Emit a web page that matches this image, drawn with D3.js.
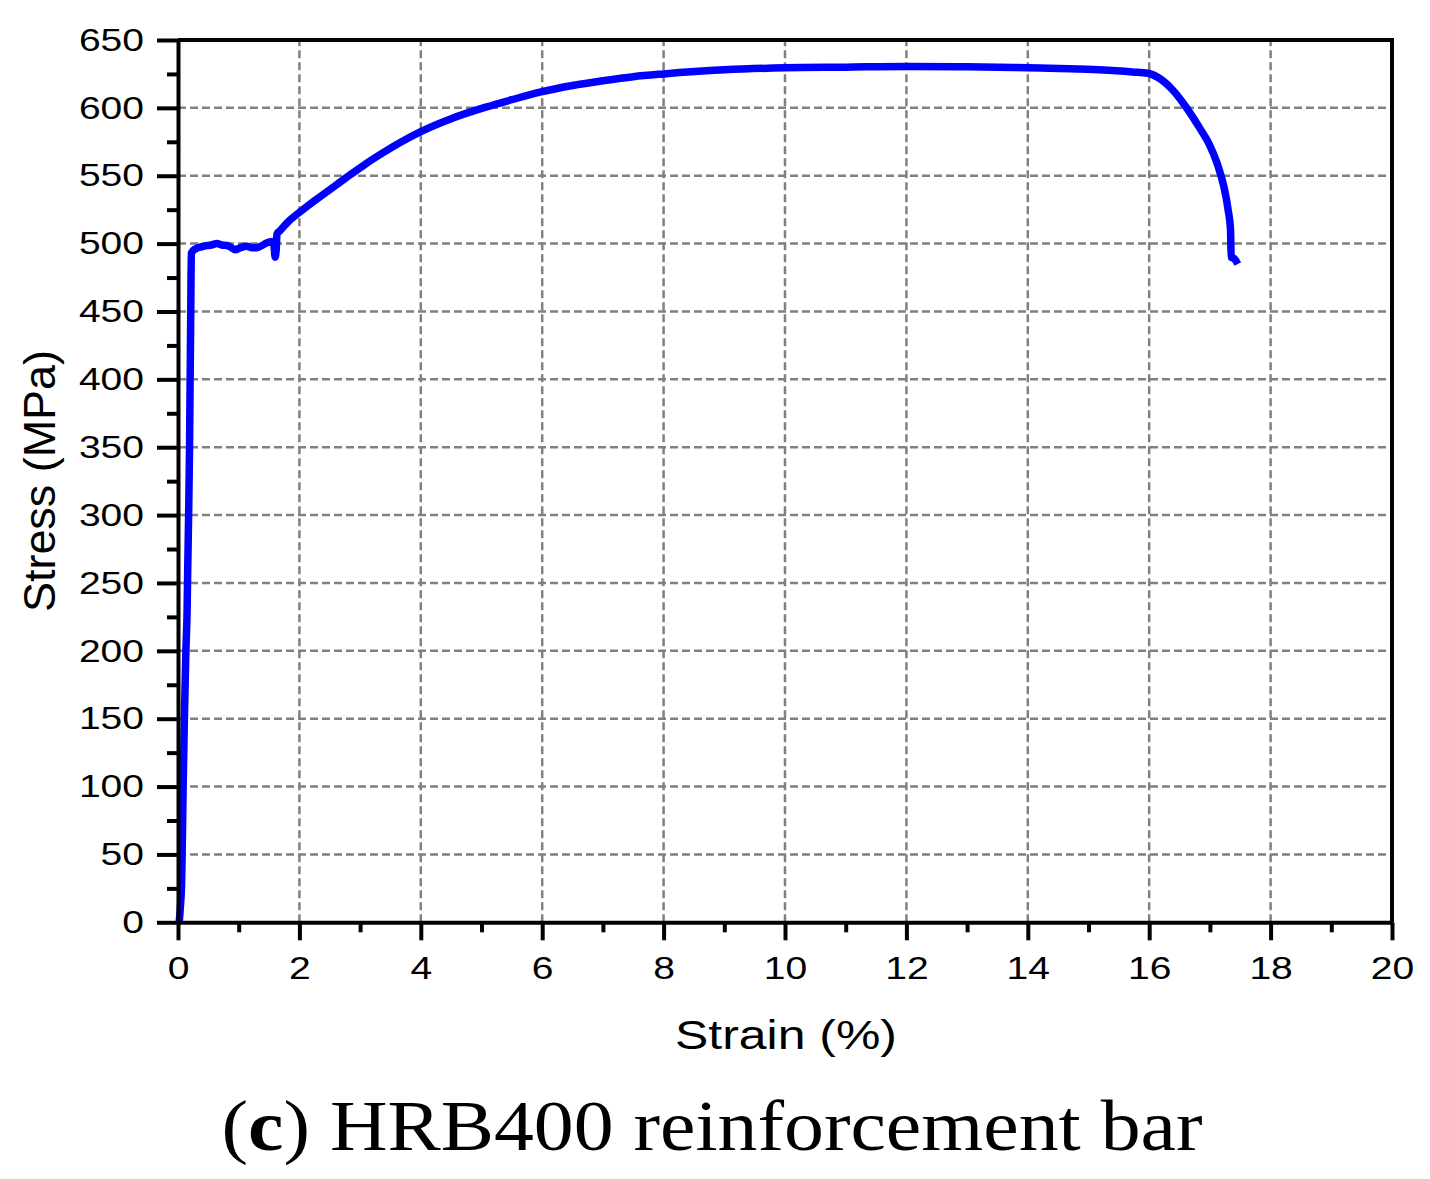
<!DOCTYPE html>
<html><head><meta charset="utf-8">
<script src="https://cdn.jsdelivr.net/npm/d3@7/dist/d3.min.js"></script>
<style>html,body{margin:0;padding:0;background:#fff;}svg{display:block;}</style>
</head><body>
<script>
// ---- data ----
const strain = [0.02,0.04,0.06,0.07,0.085,0.105,0.13,0.15,0.16,0.175,0.19,0.20,0.21,0.22,
  0.28,0.42,0.55,0.64,0.72,0.81,0.88,0.94,1.03,1.13,1.22,1.30,1.40,1.46,1.55,1.58,1.60,1.62,1.63,
  1.68,1.75,1.85,2.0,2.2,2.34,2.6,2.83,3.1,3.38,3.66,4.0,4.5,5.07,5.5,6.0,6.5,7.0,7.5,8.0,9.0,
  10.0,11.0,12.0,13.0,14.0,14.68,15.17,15.72,15.98,16.16,16.38,16.60,16.82,16.98,17.12,17.23,
  17.30,17.34,17.35,17.40,17.46];
const stress = [0,12,30,55,100,150,200,230,260,300,350,400,450,493,
  496,498,499,500,499,498.6,497,495.5,497,498,497,497,499,500.5,501.5,499,490,497,507,
  509.5,513,517.5,523,530,534.5,543,550.5,559,567,574.5,582.5,592,600.5,606,612,616.5,620,623,625,628,
  629.5,630,630.5,630.3,629.5,628.8,628,626.5,625.5,622,613.5,601,586,574,559,542,
  525,510,490,489,485];
const xTicks = [0,2,4,6,8,10,12,14,16,18,20];
const xMinor = [1,3,5,7,9,11,13,15,17,19];
const yTicks = [0,50,100,150,200,250,300,350,400,450,500,550,600,650];
const yMinor = [25,75,125,175,225,275,325,375,425,475,525,575,625];
const xTitle = "Strain (%)";
const yTitle = "Stress (MPa)";
const captionPre = "(", captionBold = "c", captionPost = ") HRB400 reinforcement bar";

const W = 1430, H = 1179;
const L = 178, R = 1392, T = 40, B = 922.3;
const sans = "'Liberation Sans', Arial, Helvetica, sans-serif";
const stretch = 1.22;

const svg = d3.select("body").append("svg").attr("width", W).attr("height", H);
const x = d3.scaleLinear().domain([0, 20]).range([L, R]);
const y = d3.scaleLinear().domain([0, 650]).range([B, T]);

// grid
const grid = svg.append("g").attr("stroke", "#808080").attr("stroke-width", 2.5).attr("stroke-dasharray", "8,4");
grid.selectAll("line.gx").data(xTicks.filter(d => d > 0 && d < 20)).join("line")
  .attr("x1", d => x(d)).attr("x2", d => x(d)).attr("y1", B).attr("y2", T);
grid.selectAll("line.gy").data(yTicks.filter(d => d > 0 && d < 650)).join("line")
  .attr("class","gy")
  .attr("y1", d => y(d)).attr("y2", d => y(d)).attr("x1", L).attr("x2", R);

// curve
const pts = strain.map((s, i) => [s, stress[i]]);
svg.append("path").datum(pts)
  .attr("fill", "none").attr("stroke", "#0000ff").attr("stroke-width", 7.5)
  .attr("stroke-linejoin", "round").attr("stroke-linecap", "butt")
  .attr("d", d3.line().curve(d3.curveMonotoneX).x(d => x(d[0])).y(d => y(d[1])));

// frame top/right
svg.append("path").attr("fill", "none").attr("stroke", "#000").attr("stroke-width", 4)
  .attr("d", `M${L},${T}H${R}V${B}`);

function styleAxis(g) {
  g.selectAll("path.domain").attr("stroke", "#000").attr("stroke-width", 4);
  g.selectAll(".tick line").attr("stroke", "#000").attr("stroke-width", 4);
  g.selectAll(".tick text").attr("fill", "#000").style("font-family", sans).style("font-size", "32px");
}

// minor ticks
svg.append("g").attr("transform", `translate(0,${B})`)
  .call(d3.axisBottom(x).tickValues(xMinor).tickSize(10).tickFormat("").tickSizeOuter(0))
  .call(g => { styleAxis(g); g.select(".domain").remove(); });
svg.append("g").attr("transform", `translate(${L},0)`)
  .call(d3.axisLeft(y).tickValues(yMinor).tickSize(11).tickFormat("").tickSizeOuter(0))
  .call(g => { styleAxis(g); g.select(".domain").remove(); });

// major axes
const gx = svg.append("g").attr("transform", `translate(0,${B})`)
  .call(d3.axisBottom(x).tickValues(xTicks).tickSize(18).tickPadding(16).tickSizeOuter(0)
    .tickFormat(d3.format("d")))
  .call(styleAxis);
const gy = svg.append("g").attr("transform", `translate(${L},0)`)
  .call(d3.axisLeft(y).tickValues(yTicks).tickSize(21).tickPadding(13).tickSizeOuter(0)
    .tickFormat(d3.format("d")))
  .call(styleAxis);
svg.selectAll(".tick text").each(function() {
  const w = this.getComputedTextLength();
  d3.select(this).attr("textLength", w * stretch).attr("lengthAdjust", "spacingAndGlyphs");
});

// axis titles
const xt = svg.append("text").attr("x", 786).attr("y", 1049).attr("text-anchor", "middle")
  .style("font-family", sans).style("font-size", "41px").attr("fill", "#000").text(xTitle);
xt.attr("textLength", 222).attr("lengthAdjust", "spacingAndGlyphs");

svg.append("text").attr("transform", "translate(55,481) rotate(-90)").attr("text-anchor", "middle")
  .style("font-family", sans).style("font-size", "45px").attr("fill", "#000")
  .attr("textLength", 262).attr("lengthAdjust", "spacingAndGlyphs").text(yTitle);

// caption
const cap = svg.append("text").attr("x", 712).attr("y", 1150).attr("text-anchor", "middle")
  .style("font-family", "'Liberation Serif', 'Times New Roman', serif").style("font-size", "72px")
  .attr("fill", "#000").attr("textLength", 981).attr("lengthAdjust", "spacingAndGlyphs");
cap.append("tspan").text(captionPre);
cap.append("tspan").style("font-weight", "bold").text(captionBold);
cap.append("tspan").text(captionPost);
</script>
</body></html>
